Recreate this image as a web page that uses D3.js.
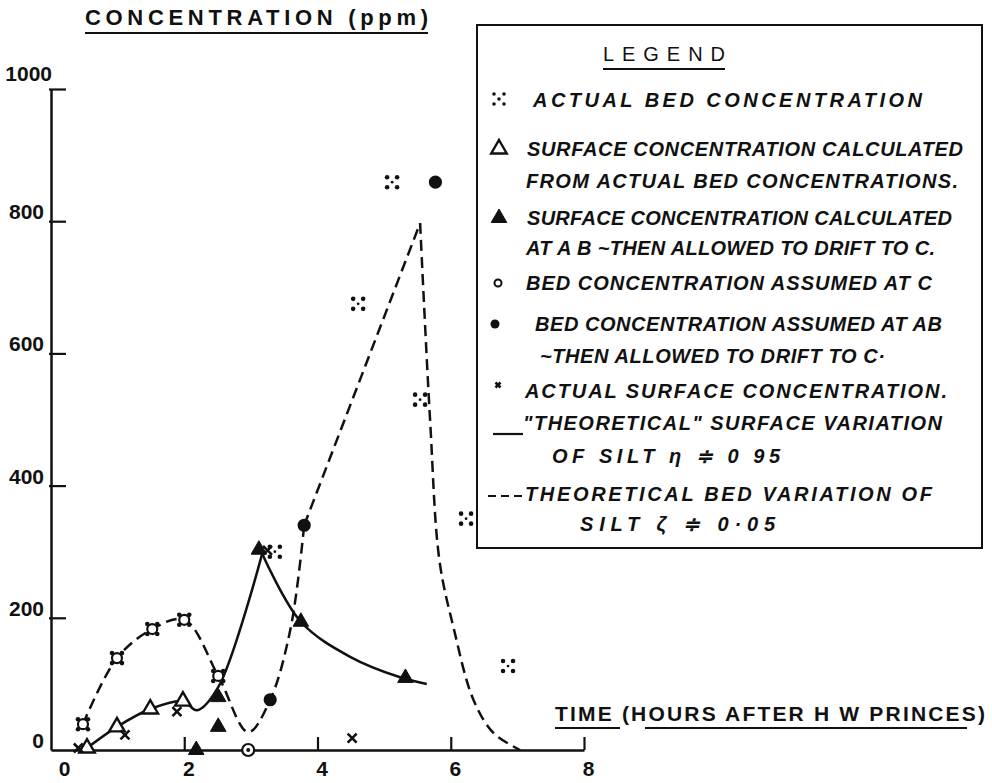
<!DOCTYPE html>
<html>
<head>
<meta charset="utf-8">
<script src="https://cdn.jsdelivr.net/npm/d3@7"></script>
<style>
  body { margin: 0; background: #fff; }
  svg { display: block; }
  text { fill: #111; }
</style>
</head>
<body>
<svg id="chart" width="992" height="783"></svg>
<script>
// values: [hours after HW, ppm]
const bedActual = [[0.48, 39], [0.99, 139], [1.52, 183], [2.0, 197], [2.51, 112], [3.36, 300],
  [4.61, 675], [5.12, 859], [5.54, 530], [6.23, 350], [6.86, 127]];
const bedAssumedC = [[0.48, 39], [0.99, 139], [1.52, 183], [2.0, 197], [2.51, 112]];
const bedAssumedBoth = [[2.96, 0]];
const bedAssumedAB = [[3.29, 76], [3.8, 340], [5.77, 859]];
const surfFromBed = [[0.54, 3], [0.99, 35], [1.49, 62], [1.98, 74]];
const surfAB = [[2.18, 0], [2.51, 80], [2.51, 35], [3.12, 303], [3.75, 194], [5.32, 109]];
const surfActual = [[0.41, 3], [1.11, 23], [1.89, 58], [3.25, 302], [4.52, 18]];

// "theoretical" surface curve (solid), two pieces meeting at the cusp
const surfCurveRise = [[0.54, 3], [0.99, 35], [1.49, 62], [1.98, 74], [2.19, 60], [2.51, 95], [3.17, 297]];
const surfCurveFall = [[3.17, 297], [3.75, 194], [4.49, 141], [5.24, 110], [5.64, 100]];
// theoretical bed curve (dashed)
const bedCurveA = [[0.48, 39], [0.99, 139], [1.52, 183], [2.0, 197], [2.51, 112], [2.96, 27],
  [3.29, 76], [3.6, 186], [3.8, 340]];
const bedCurveB = [[3.8, 340], [5.54, 797]];
const bedCurveC = [[5.54, 797], [5.69, 499], [5.83, 287], [6.04, 186], [6.34, 76], [6.64, 26], [7.04, 0]];

const xTicks = [0, 2, 4, 6, 8];
const yTicks = [0, 200, 400, 600, 800, 1000];

const legendRows = [
  { sym: 'bed', lines: ['ACTUAL  BED  CONCENTRATION'] },
  { sym: 'triOpen', lines: ['SURFACE  CONCENTRATION  CALCULATED', 'FROM  ACTUAL  BED  CONCENTRATIONS.'] },
  { sym: 'triFill', lines: ['SURFACE  CONCENTRATION  CALCULATED', 'AT  A B ~THEN  ALLOWED  TO  DRIFT  TO  C.'] },
  { sym: 'circOpen', lines: ['BED  CONCENTRATION  ASSUMED  AT  C'] },
  { sym: 'circFill', lines: ['BED  CONCENTRATION  ASSUMED  AT  AB', '~THEN  ALLOWED  TO  DRIFT  TO  C·'] },
  { sym: 'cross', lines: ['ACTUAL  SURFACE  CONCENTRATION.'] },
  { sym: 'solid', lines: ['"THEORETICAL"  SURFACE  VARIATION', 'OF  SILT  η  ≑  0  95'] },
  { sym: 'dash', lines: ['THEORETICAL  BED  VARIATION  OF', 'SILT  ζ  ≑  0·05'] }
];

const svg = d3.select('#chart');
const x = d3.scaleLinear().domain([0, 8]).range([51, 584]);
const y = d3.scaleLinear().domain([0, 1000]).range([750, 89]);

// axes
const xAxis = svg.append('g')
  .attr('transform', `translate(0,${y(0)})`)
  .call(d3.axisBottom(x).tickValues(xTicks).tickFormat(d3.format('d'))
    .tickSize(-13).tickSizeOuter(0).tickPadding(20));
const yAxis = svg.append('g')
  .attr('transform', `translate(${x(0)},0)`)
  .call(d3.axisLeft(y).tickValues(yTicks).tickFormat(d3.format('d'))
    .tickSize(-15).tickSizeOuter(0).tickPadding(7));
[xAxis, yAxis].forEach(g => {
  g.select('.domain').attr('stroke', '#111').attr('stroke-width', 2.5);
  g.selectAll('.tick line').attr('stroke', '#111').attr('stroke-width', 2.2);
  g.selectAll('text')
    .attr('font-family', 'Liberation Sans, Arial, sans-serif')
    .attr('font-weight', 'bold')
    .attr('font-size', 21)
    .attr('fill', '#111');
});
xAxis.selectAll('.tick').filter(d => d === 0).select('line').remove();
xAxis.selectAll('.tick text').attr('dx', d => d === 0 ? 13 : 4).attr('dy', '0.3em');
yAxis.selectAll('.tick').filter(d => d === 0).select('line').remove();
yAxis.selectAll('.tick line').attr('x1', -2);
yAxis.selectAll('.tick text').attr('dy', '-0.12em').attr('x', -7);
yAxis.selectAll('.tick').filter(d => d === 1000).select('text').attr('x', 1).attr('dy', '-0.4em');

// axis titles
const titleFont = 'Liberation Sans, Arial, sans-serif';
svg.append('text')
  .attr('x', 85).attr('y', 25)
  .attr('font-family', titleFont).attr('font-weight', 'bold').attr('font-size', 22)
  .attr('textLength', 343).attr('lengthAdjust', 'spacing')
  .text('CONCENTRATION (ppm)');
svg.append('line').attr('x1', 85).attr('x2', 428).attr('y1', 33).attr('y2', 33)
  .attr('stroke', '#111').attr('stroke-width', 2);

svg.append('text')
  .attr('x', 555).attr('y', 721)
  .attr('font-family', titleFont).attr('font-weight', 'bold').attr('font-size', 21)
  .attr('textLength', 430).attr('lengthAdjust', 'spacing')
  .text('TIME  (HOURS AFTER H W PRINCES)');
[[555, 620], [645, 967]].forEach(([a, b]) =>
  svg.append('line').attr('x1', a).attr('x2', b).attr('y1', 728).attr('y2', 728)
    .attr('stroke', '#111').attr('stroke-width', 2));

// curves
const smooth = d3.line().x(d => x(d[0])).y(d => y(d[1])).curve(d3.curveCatmullRom.alpha(0.5));
const straight = d3.line().x(d => x(d[0])).y(d => y(d[1]));
const curves = svg.append('g').attr('fill', 'none').attr('stroke', '#111').attr('stroke-width', 2.5);
curves.append('path').attr('d', smooth(surfCurveRise));
curves.append('path').attr('d', smooth(surfCurveFall));
[smooth(bedCurveA), straight(bedCurveB), smooth(bedCurveC)].forEach(d =>
  curves.append('path').attr('d', d).attr('stroke-dasharray', '11,6'));

// marker drawing helpers
function drawBed(g) {
  [[-5, -5], [5, -5], [-5, 5], [5, 5]].forEach(([dx, dy]) =>
    g.append('circle').attr('cx', dx).attr('cy', dy).attr('r', 2.3).attr('fill', '#111'));
  g.append('circle').attr('r', 1.4).attr('fill', '#111');
}
const tri = d3.symbol().type(d3.symbolTriangle).size(105);
function drawTri(g, filled) {
  g.append('path').attr('d', tri())
    .attr('fill', filled ? '#111' : '#fff').attr('stroke', '#111').attr('stroke-width', filled ? 1 : 2.4);
}
function drawCircle(g, filled) {
  g.append('circle').attr('r', filled ? 5.5 : 5)
    .attr('fill', filled ? '#111' : '#fff').attr('stroke', '#111').attr('stroke-width', 2.2);
}
function drawCross(g, s) {
  g.append('path').attr('d', `M${-s},${-s}L${s},${s}M${-s},${s}L${s},${-s}`)
    .attr('stroke', '#111').attr('stroke-width', 2.6).attr('fill', 'none');
}

function plot(data, draw) {
  svg.append('g').selectAll('g').data(data).join('g')
    .attr('transform', d => `translate(${x(d[0])},${y(d[1])})`)
    .each(function () { draw(d3.select(this)); });
}
plot(bedActual, drawBed);
plot(bedAssumedC, g => drawCircle(g, false));
plot(bedAssumedBoth, g => {
  g.append('circle').attr('r', 6).attr('fill', '#fff').attr('stroke', '#111').attr('stroke-width', 2.2);
  g.append('circle').attr('r', 2).attr('fill', '#111');
});
plot(bedAssumedAB, g => drawCircle(g, true));
plot(surfFromBed, g => drawTri(g, false));
plot(surfAB, g => drawTri(g, true));
plot(surfActual, g => drawCross(g, 4.5));

// legend
const lg = svg.append('g');
lg.append('rect').attr('x', 477).attr('y', 25).attr('width', 505).attr('height', 523)
  .attr('fill', '#fff').attr('stroke', '#111').attr('stroke-width', 2);
lg.append('text').attr('x', 603).attr('y', 61)
  .attr('font-family', titleFont).attr('font-size', 20)
  .attr('textLength', 122).attr('lengthAdjust', 'spacing').text('LEGEND');
lg.append('line').attr('x1', 603).attr('x2', 725).attr('y1', 69).attr('y2', 69)
  .attr('stroke', '#111').attr('stroke-width', 2);

// first-line baselines, second-line baselines, text starts and ends
const rowY = [[107], [156, 188], [225, 255], [290], [331, 363], [398], [430, 463], [501, 531]];
const rowX = [[533], [527, 526], [527, 526], [526], [535, 540], [525], [523, 552], [525, 580]];
const rowEnd = [[922], [963, 958], [952, 935], [932], [942, 885], [947], [942, 780], [932, 775]];

legendRows.forEach((row, i) => {
  const sy = rowY[i][0] - 7;
  const g = lg.append('g').attr('transform', `translate(498,${sy})`);
  if (row.sym === 'bed') { g.attr('transform', `translate(499,${sy - 1})`); g.call(drawBed); g.selectAll('circle').attr('r', 1.8); }
  if (row.sym === 'triOpen') drawTri(g.attr('transform', `translate(499,${sy})`), false);
  if (row.sym === 'triFill') drawTri(g.attr('transform', `translate(499,${sy})`), true);
  if (row.sym === 'circOpen') { g.append('circle').attr('r', 3.5).attr('fill', 'none').attr('stroke', '#111').attr('stroke-width', 2); }
  if (row.sym === 'circFill') { g.attr('transform', `translate(495,${sy})`).append('circle').attr('r', 4.5).attr('fill', '#111'); }
  if (row.sym === 'cross') { g.attr('transform', `translate(498,${sy - 6})`); drawCross(g, 2.5); }
  if (row.sym === 'solid') g.append('line').attr('x1', -5).attr('x2', 25).attr('y1', 11).attr('y2', 11)
    .attr('stroke', '#111').attr('stroke-width', 2.2);
  if (row.sym === 'dash') g.append('line').attr('x1', -10).attr('x2', 27).attr('y1', 2).attr('y2', 2)
    .attr('stroke', '#111').attr('stroke-width', 2.2).attr('stroke-dasharray', '8,5');
  row.lines.forEach((t, j) => {
    lg.append('text')
      .attr('x', rowX[i][j]).attr('y', rowY[i][j])
      .attr('font-family', titleFont).attr('font-style', 'italic').attr('font-weight', 'bold')
      .attr('font-size', 20)
      .attr('textLength', rowEnd[i][j] - rowX[i][j]).attr('lengthAdjust', 'spacing')
      .text(t);
  });
});
</script>
</body>
</html>
